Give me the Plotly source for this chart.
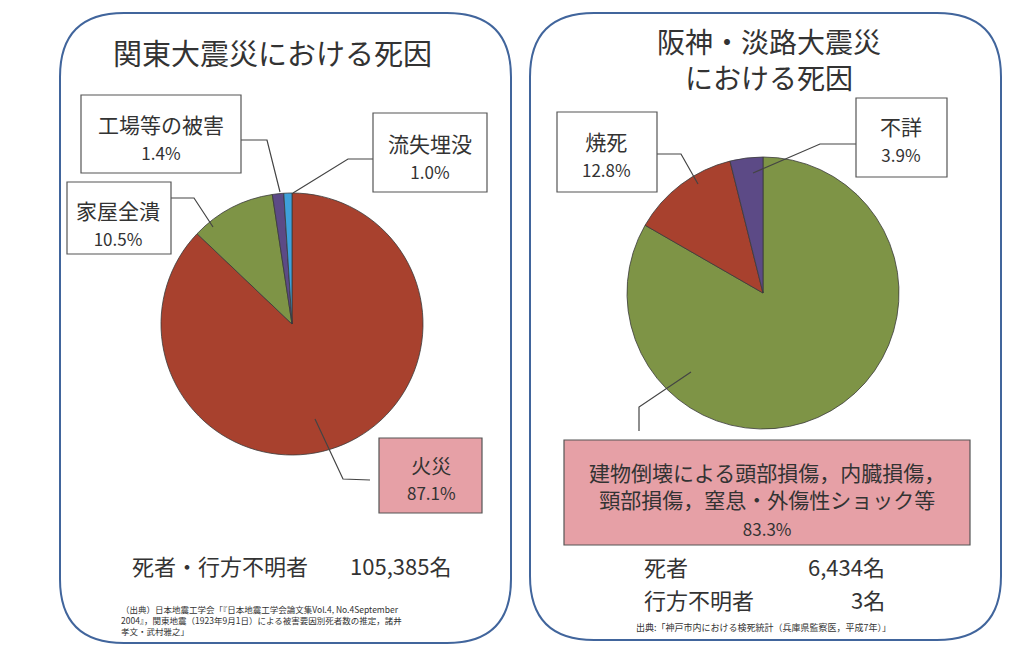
import plotly.graph_objects as go

W, H = 1024, 655
OFF = 8  # default page body margin in the browser
FONT = "Noto Sans CJK JP"
TXT = "#333333"

# ---------------- data ----------------
kanto_labels = ["火災", "家屋全潰", "工場等の被害", "流失埋没"]
kanto_values = [87.1, 10.5, 1.4, 1.0]
kanto_colors = ["#A8412E", "#7E9446", "#5C4A86", "#3EA0DA"]

hanshin_labels = ["建物倒壊による頭部損傷，内臓損傷，頸部損傷，窒息・外傷性ショック等", "焼死", "不詳"]
hanshin_values = [83.3, 12.8, 3.9]
hanshin_colors = ["#7E9446", "#A8412E", "#5C4A86"]

kanto_title = "関東大震災における死因"
hanshin_title = ["阪神・淡路大震災", "における死因"]
hanshin_big_label_lines = ["建物倒壊による頭部損傷，内臓損傷，", "頸部損傷，窒息・外傷性ショック等"]
kanto_total = ("死者・行方不明者", "105,385名")
hanshin_totals = [("死者", "6,434名"), ("行方不明者", "3名")]
kanto_source = ["（出典）日本地震工学会「『日本地震工学会論文集Vol.4, No.4September",
                "2004』，関東地震（1923年9月1日）による被害要因別死者数の推定，諸井",
                "孝文・武村雅之」"]
hanshin_source = "出典:「神戸市内における検死統計（兵庫県監察医，平成7年）」"


def px(x):
    return (x - OFF) / W


def py(y):
    return 1 - (y - OFF) / H


fig = go.Figure()


def pie_domain(cx, cy, r):
    return dict(x=[px(cx - r), px(cx + r)], y=[py(cy + r), py(cy - r)])


fig.add_trace(go.Pie(labels=kanto_labels, values=kanto_values, sort=False,
                     direction="clockwise", rotation=0, textinfo="none",
                     hoverinfo="label+percent",
                     marker=dict(colors=kanto_colors, line=dict(color="#3a3a3a", width=0.8)),
                     domain=pie_domain(292, 324, 131), showlegend=False))
fig.add_trace(go.Pie(labels=hanshin_labels, values=hanshin_values, sort=False,
                     direction="clockwise", rotation=0, textinfo="none",
                     hoverinfo="label+percent",
                     marker=dict(colors=hanshin_colors, line=dict(color="#3a3a3a", width=0.8)),
                     domain=pie_domain(763, 293, 136), showlegend=False))

shapes = []
annotations = []


def rounded(x0, y0, x1, y1, r):
    rx, ry = r / W, r / H
    X0, X1 = px(x0), px(x1)
    Y0, Y1 = py(y0), py(y1)
    p = (f"M {X0+rx},{Y0} L {X1-rx},{Y0} Q {X1},{Y0} {X1},{Y0-ry} "
         f"L {X1},{Y1+ry} Q {X1},{Y1} {X1-rx},{Y1} "
         f"L {X0+rx},{Y1} Q {X0},{Y1} {X0},{Y1+ry} "
         f"L {X0},{Y0-ry} Q {X0},{Y0} {X0+rx},{Y0} Z")
    shapes.append(dict(type="path", path=p, xref="paper", yref="paper",
                       line=dict(color="#41659C", width=2), fillcolor="rgba(0,0,0,0)",
                       layer="below"))


def box(x0, y0, x1, y1, fill="white"):
    shapes.append(dict(type="rect", xref="paper", yref="paper",
                       x0=px(x0), x1=px(x1), y0=py(y1), y1=py(y0),
                       line=dict(color="#555555", width=1.2), fillcolor=fill, layer="above"))


def leader(pts):
    path = "M " + " L ".join(f"{px(x)},{py(y)}" for x, y in pts)
    shapes.append(dict(type="path", path=path, xref="paper", yref="paper",
                       line=dict(color="#444444", width=1.2), layer="above"))


def text(x, y, s, size, anchor="center", align="center"):
    annotations.append(dict(x=px(x), y=py(y), xref="paper", yref="paper", text=s,
                            showarrow=False, xanchor=anchor, yanchor="middle", align=align,
                            borderpad=0,
                            font=dict(family=FONT, size=size, color=TXT)))


def label_text(lines, value, psize=17):
    return "<br>".join(lines) + f"<br><span style='font-size:{psize}px'>{value:.1f}%</span>"


rounded(60, 13, 511, 643, 64)
rounded(530, 13, 1001, 640, 64)

# titles
text(272, 52, kanto_title, 29)
text(769, 59, "<br>".join(hanshin_title), 28)

PINK = "#E6A0A6"

# Kanto labels
leader([(315, 419), (343, 479), (370, 480)])
box(379, 438, 482, 513, PINK)
text(431, 478, label_text([kanto_labels[0]], kanto_values[0]), 20)

leader([(171, 198), (194, 198), (213, 227)])
box(67, 182, 171, 254)
text(118, 223, label_text([kanto_labels[1]], kanto_values[1]), 21)

leader([(241, 140), (267, 140), (280, 192)])
box(81, 95, 241, 173)
text(161, 137, label_text([kanto_labels[2]], kanto_values[2]), 21)

leader([(373, 159), (348, 159), (293, 193)])
box(373, 113, 487, 192)
text(430, 156, label_text([kanto_labels[3]], kanto_values[3]), 21)

# Hanshin labels
leader([(691, 372), (639, 407), (639, 431)])
box(564, 440, 970, 545, PINK)
text(767, 499, label_text(hanshin_big_label_lines, hanshin_values[0]), 21)

leader([(657, 154), (681, 154), (698, 184)])
box(557, 112, 657, 192)
text(606, 154, label_text([hanshin_labels[1]], hanshin_values[1]), 21)

leader([(856, 144), (820, 144), (753, 173)])
box(856, 98, 947, 177)
text(901, 139, label_text([hanshin_labels[2]], hanshin_values[2]), 21)

# totals
text(131, 565, kanto_total[0], 22, "left", "left")
text(452, 565, kanto_total[1], 22, "right", "right")
for i, (k, v) in enumerate(hanshin_totals):
    yy = 566 + 33 * i
    text(643, yy, k, 22, "left", "left")
    text(886, yy, v, 22, "right", "right")

# sources
text(120, 620, "<br>".join(kanto_source), 8.5, "left", "left")
text(763, 627, hanshin_source, 9)

fig.update_layout(width=W, height=H, autosize=False,
                  margin=dict(l=0, r=0, t=0, b=0),
                  paper_bgcolor="white", plot_bgcolor="white",
                  shapes=shapes, annotations=annotations, showlegend=False)

fig.write_html("out.html")
